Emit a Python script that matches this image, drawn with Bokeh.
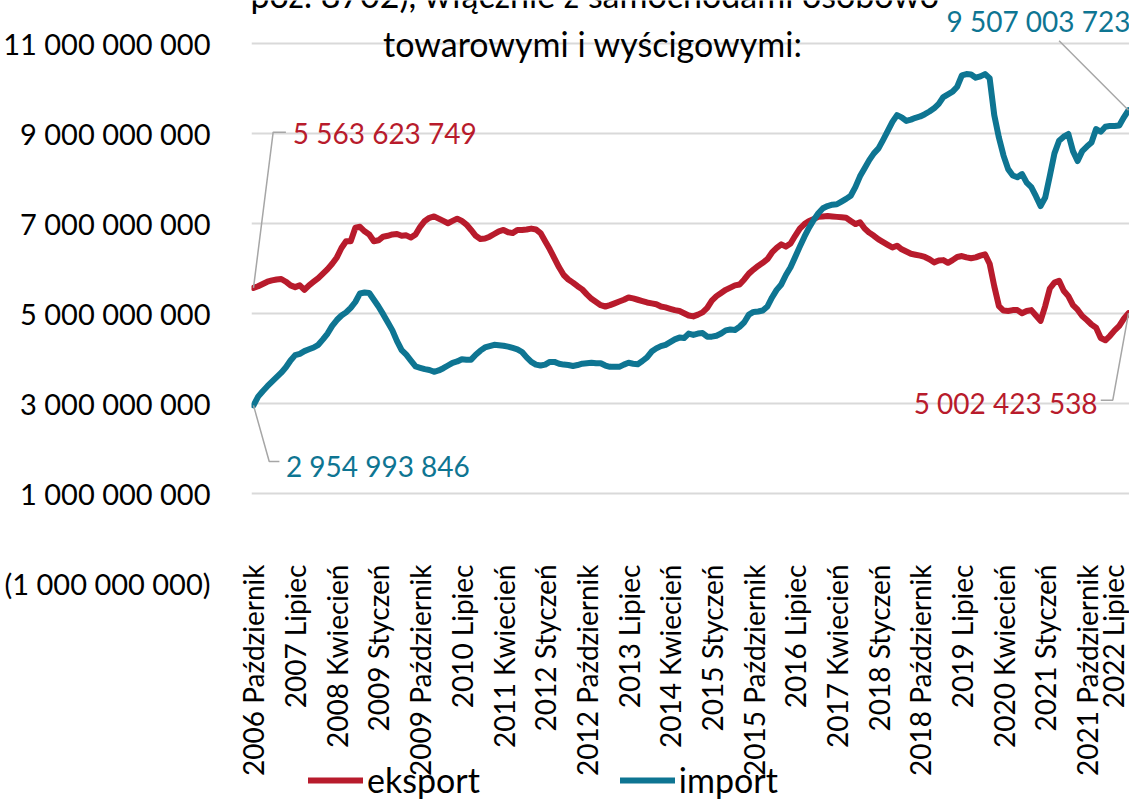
import math
from bokeh.plotting import figure
from bokeh.layouts import column
from bokeh.models import Range1d, FixedTicker, Label, Legend, LegendItem
from bokeh.embed import file_html
from bokeh.resources import INLINE

# x-axis tick labels (every 9th month, Oct 2006 .. Jul 2022)
tick_labels = ["2006 Październik", "2007 Lipiec", "2008 Kwiecień", "2009 Styczeń",
               "2009 Październik", "2010 Lipiec", "2011 Kwiecień", "2012 Styczeń",
               "2012 Październik", "2013 Lipiec", "2014 Kwiecień", "2015 Styczeń",
               "2015 Październik", "2016 Lipiec", "2017 Kwiecień", "2018 Styczeń",
               "2018 Październik", "2019 Lipiec", "2020 Kwiecień", "2021 Styczeń",
               "2021 Październik", "2022 Lipiec"]

# monthly values, billions PLN (Oct 2006 .. Jul 2022)
eksport = [
    5.563623749, 5.60, 5.65, 5.70, 5.73, 5.75, 5.76, 5.70, 5.62, 5.58, 5.62, 5.52,
    5.62, 5.70, 5.78, 5.88, 5.98, 6.10, 6.24, 6.45, 6.60, 6.60, 6.90, 6.92,
    6.82, 6.75, 6.60, 6.62, 6.70, 6.72, 6.75, 6.76, 6.72, 6.73, 6.68, 6.75,
    6.92, 7.05, 7.12, 7.15, 7.10, 7.05, 7.00, 7.05, 7.10, 7.05, 6.97, 6.85,
    6.72, 6.65, 6.66, 6.70, 6.76, 6.82, 6.85, 6.80, 6.78, 6.85, 6.85, 6.86,
    6.88, 6.86, 6.78, 6.60, 6.42, 6.22, 6.02, 5.85, 5.75, 5.68, 5.60, 5.53,
    5.42, 5.32, 5.25, 5.18, 5.15, 5.18, 5.22, 5.26, 5.30, 5.35, 5.33, 5.30,
    5.27, 5.24, 5.22, 5.20, 5.15, 5.13, 5.10, 5.07, 5.05, 5.00, 4.95, 4.93,
    4.97, 5.02, 5.12, 5.28, 5.38, 5.45, 5.52, 5.57, 5.62, 5.64, 5.75, 5.88,
    5.97, 6.05, 6.12, 6.20, 6.35, 6.45, 6.53, 6.48, 6.55, 6.72, 6.88, 6.98,
    7.05, 7.09, 7.14, 7.15, 7.16, 7.15, 7.14, 7.13, 7.12, 7.05, 6.98, 7.02,
    6.88, 6.79, 6.72, 6.64, 6.58, 6.52, 6.46, 6.50, 6.42, 6.37, 6.32, 6.30,
    6.28, 6.25, 6.20, 6.13, 6.17, 6.18, 6.12, 6.18, 6.25, 6.27, 6.24, 6.22,
    6.24, 6.28, 6.31, 6.10, 5.60, 5.16, 5.06, 5.05, 5.07, 5.07, 5.00, 5.05,
    5.07, 4.95, 4.83, 5.16, 5.55, 5.68, 5.72, 5.50, 5.38, 5.18, 5.08, 4.94,
    4.85, 4.75, 4.68, 4.45, 4.40, 4.50, 4.62, 4.72, 4.88, 5.002423538]

import_ = [
    2.954993846, 3.15, 3.27, 3.38, 3.48, 3.58, 3.68, 3.80, 3.95, 4.07, 4.10, 4.16,
    4.20, 4.24, 4.30, 4.42, 4.55, 4.72, 4.85, 4.95, 5.02, 5.12, 5.25, 5.44,
    5.46, 5.45, 5.30, 5.15, 4.98, 4.80, 4.62, 4.38, 4.18, 4.08, 3.95, 3.82,
    3.79, 3.76, 3.74, 3.70, 3.73, 3.78, 3.84, 3.90, 3.93, 3.98, 3.97, 3.97,
    4.08, 4.17, 4.24, 4.27, 4.30, 4.29, 4.28, 4.26, 4.23, 4.20, 4.14, 4.02,
    3.92, 3.86, 3.84, 3.86, 3.92, 3.92, 3.88, 3.86, 3.85, 3.83, 3.85, 3.88,
    3.89, 3.90, 3.89, 3.89, 3.84, 3.81, 3.81, 3.81, 3.86, 3.90, 3.88, 3.87,
    3.94, 4.02, 4.15, 4.22, 4.27, 4.30, 4.36, 4.42, 4.46, 4.45, 4.55, 4.52,
    4.55, 4.56, 4.48, 4.48, 4.50, 4.55, 4.62, 4.64, 4.63, 4.70, 4.80, 4.97,
    5.03, 5.04, 5.06, 5.15, 5.35, 5.52, 5.64, 5.85, 6.02, 6.25, 6.48, 6.70,
    6.90, 7.07, 7.22, 7.33, 7.38, 7.41, 7.42, 7.48, 7.54, 7.61, 7.80, 8.04,
    8.22, 8.40, 8.55, 8.66, 8.85, 9.05, 9.25, 9.40, 9.35, 9.27, 9.30, 9.34,
    9.37, 9.42, 9.48, 9.55, 9.65, 9.80, 9.86, 9.92, 10.03, 10.28, 10.31, 10.30,
    10.23, 10.26, 10.31, 10.22, 9.40, 8.90, 8.50, 8.20, 8.06, 8.02, 8.09, 7.90,
    7.80, 7.60, 7.38, 7.57, 8.05, 8.55, 8.83, 8.92, 8.98, 8.60, 8.38, 8.60,
    8.70, 8.79, 9.09, 9.03, 9.14, 9.16, 9.16, 9.17, 9.35, 9.507003723]

y_ticks = [-1e9, 1e9, 3e9, 5e9, 7e9, 9e9, 11e9]
y_tick_labels = ["(1 000 000 000)", "1 000 000 000", "3 000 000 000", "5 000 000 000",
                 "7 000 000 000", "9 000 000 000", "11 000 000 000"]

title_lines = ["poz. 8702), włącznie z samochodami osobowo", "towarowymi i wyścigowymi:"]
series_names = ["eksport", "import"]

RED = "#B81B2C"
BLUE = "#0E7592"
FONT = "Lato"
FS = "29px"
W = 1129

n = len(eksport)
xs = list(range(n))
ex = [v * 1e9 for v in eksport]
im = [v * 1e9 for v in import_]

p = figure(width=W, height=794, output_backend="svg", toolbar_location=None,
           x_range=Range1d(-0.43, 189.21), y_range=Range1d(-1e9, 11.944e9),
           min_border_left=242, min_border_right=0, min_border_top=0,
           min_border_bottom=211)
p.outline_line_color = None
p.background_fill_color = "white"

# axes
p.yaxis.ticker = FixedTicker(ticks=y_ticks)
p.yaxis.major_label_overrides = {t: l for t, l in zip(y_ticks, y_tick_labels)}
p.yaxis.axis_line_color = None
p.yaxis.major_tick_line_color = None
p.yaxis.minor_tick_line_color = None
p.yaxis.major_label_standoff = 35
p.yaxis.major_label_text_font = FONT
p.yaxis.major_label_text_font_size = FS
p.yaxis.major_label_text_color = "#000000"

xt = list(range(0, n, 9))
p.xaxis.ticker = FixedTicker(ticks=xt)
p.xaxis.major_label_overrides = {t: l for t, l in zip(xt, tick_labels)}
p.xaxis.major_label_orientation = math.pi / 2
p.xaxis.axis_line_color = None
p.xaxis.major_tick_line_color = None
p.xaxis.minor_tick_line_color = None
p.xaxis.major_label_standoff = -25
p.xaxis.major_label_text_font = FONT
p.xaxis.major_label_text_font_size = "28px"
p.xaxis.major_label_text_color = "#000000"

p.xgrid.grid_line_color = None
p.ygrid.ticker = FixedTicker(ticks=y_ticks[1:])
p.ygrid.grid_line_color = "#D9D9D9"
p.ygrid.grid_line_width = 2

r_ex = p.line(xs, ex, line_color=RED, line_width=6, line_join="round", line_cap="round")
r_im = p.line(xs, im, line_color=BLUE, line_width=6, line_join="round", line_cap="round")

# leader lines for end-point labels
G = "#A6A6A6"
p.line([0, 4.25, 7.0], [ex[0], 9.02e9, 9.02e9], line_color=G, line_width=1.5)
p.line([0, 3.4, 5.6], [im[0], 1.71e9, 1.71e9], line_color=G, line_width=1.5)
p.line([n - 1, 174.0], [im[-1], 11.05e9], line_color=G, line_width=1.5)
p.line([n - 1, 185.6, 183.0], [ex[-1], 3.07e9, 3.07e9], line_color=G, line_width=1.5)

def fmt(v):
    return "{:,}".format(int(round(v))).replace(",", " ")

def lab(x, y, text, color, align="left", size="28px"):
    p.add_layout(Label(x=x, y=y, text=text, text_color=color, text_font=FONT,
                       text_font_size=size, text_align=align, text_baseline="middle"))

lab(8.5, 9.0e9, fmt(ex[0]), RED)
lab(7.0, 1.6e9, fmt(im[0]), BLUE)
lab(149.7, 11.49e9, fmt(im[-1]), BLUE)
lab(142.6, 3.0e9, fmt(ex[-1]), RED)

# title (partly cut off at the top)
lab(73.8, 12.07e9, title_lines[0], "#000000", align="center", size="34px")
lab(73.3, 10.98e9, title_lines[1], "#000000", align="center", size="34px")

# legend strip, overlapping the bottom of the chart
p2 = figure(width=W, height=44, output_backend="svg", toolbar_location=None,
            x_range=Range1d(0, 1), y_range=Range1d(0, 1), min_border=0,
            margin=(-38, 0, 0, 0))
p2.axis.visible = False
p2.grid.visible = False
p2.outline_line_color = None
p2.background_fill_alpha = 0
p2.border_fill_alpha = 0
# same series, drawn outside this strip's ranges: only their legend samples show
l_ex = p2.line(xs, ex, line_color=RED, line_width=6, line_cap="round")
l_im = p2.line(xs, im, line_color=BLUE, line_width=6, line_cap="round")
legend = Legend(items=[LegendItem(label=series_names[0], renderers=[l_ex]),
                       LegendItem(label=series_names[1], renderers=[l_im])],
                location=(57, 0), orientation="horizontal",
                label_text_font=FONT, label_text_font_size="34px",
                label_text_color="#000000", glyph_width=55, glyph_height=20,
                label_standoff=4, spacing=140, padding=0, margin=0,
                border_line_color=None, background_fill_alpha=0)
p2.add_layout(legend, "center")

layout = column(p, p2, spacing=0)
open("out.html", "w").write(file_html(layout, INLINE))
